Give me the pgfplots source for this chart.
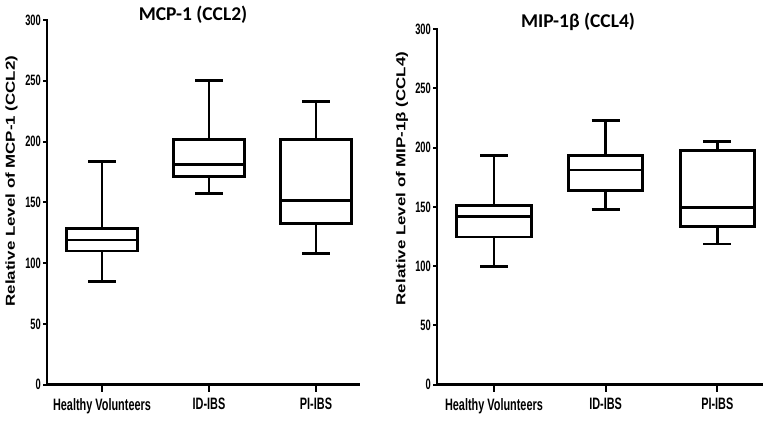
\documentclass[border=0pt]{standalone}
\usepackage{fontspec}
\setmainfont{Liberation Sans}
\newfontfamily\titlefont{Carlito Bold}
\newfontfamily\ticknarrow{Liberation Sans Bold}[FakeStretch=0.66]
\newfontfamily\ynarrow{Liberation Sans Bold}[FakeStretch=0.62]
\newfontfamily\labwide{Liberation Sans Bold}[FakeStretch=1.3]
\usepackage{pgfplots}
\pgfplotsset{compat=1.18}
\pgfplotsset{
  mybox/.style={
    axis lines=left,
    axis line style={-, draw=none},
    scale only axis,
    ymin=0, ymax=300,
    ytick={0,50,...,300},
    xtick={0,1,2},
    xticklabels={Healthy Volunteers,ID-IBS,PI-IBS},
    tick align=outside,
    major tick length=4pt,
    tick style={draw=none},
    /pgf/number format/assume math mode=true,
    yticklabel style={font=\ynarrow\fontsize{15}{15}\selectfont, text=black, inner sep=2pt},
    xticklabel style={font=\ticknarrow\fontsize{16.5}{16.5}\selectfont, text=black, yshift=-6pt},
    clip=false,
    empty line=jump,
  },
  bp/.style={black, line width=2.8pt, mark=none, line join=miter},
  fr/.style={black, line width=2.8pt, mark=none, line join=miter, line cap=rect},
  tk/.style={black, line width=2pt, mark=none},
}
\begin{document}
\begin{tikzpicture}
\useasboundingbox (0pt,0pt) rectangle (768pt,424pt);
\begin{axis}[mybox, at={(47pt,39.3pt)}, anchor=south west,
  width=312pt, height=364.7pt, xmin=-0.514, xmax=2.402]
% frame and ticks
\addplot[fr] coordinates {(-0.514,300) (-0.514,0) (2.402,0)};
\addplot[tk] table {
x y
-0.514 50
-0.552 50

-0.514 100
-0.552 100

-0.514 150
-0.552 150

-0.514 200
-0.552 200

-0.514 250
-0.552 250

-0.514 300
-0.552 300

-0.514 0
-0.552 0

0 0
0 -5.8

1 0
1 -5.8

2 0
2 -5.8
};
% Healthy Volunteers: LW 85.2, Q1 110, Med 119, Q3 128.6, UW 183.3
\addplot[bp] table {
x y
-0.33 110
0.33 110
0.33 128.6
-0.33 128.6
-0.33 110
0.33 110

-0.33 119
0.33 119

0 128.6
0 183.3

-0.13 183.3
0.13 183.3

0 110
0 85.2

-0.13 85.2
0.13 85.2
};
% ID-IBS: LW 157, Q1 171.5, Med 181.4, Q3 201.5, UW 250
\addplot[bp] table {
x y
0.67 171.5
1.33 171.5
1.33 201.5
0.67 201.5
0.67 171.5
1.33 171.5

0.67 181.4
1.33 181.4

1 201.5
1 250

0.87 250
1.13 250

1 171.5
1 157

0.87 157
1.13 157
};
% PI-IBS: LW 108, Q1 132.7, Med 151.7, Q3 202, UW 232.8
\addplot[bp] table {
x y
1.67 132.7
2.33 132.7
2.33 202
1.67 202
1.67 132.7
2.33 132.7

1.67 151.7
2.33 151.7

2 202
2 232.8

1.87 232.8
2.13 232.8

2 132.7
2 108

1.87 108
2.13 108
};
\end{axis}
\begin{axis}[mybox, at={(437pt,39.3pt)}, anchor=south west,
  width=325pt, height=355.7pt, xmin=-0.51, xmax=2.40]
% frame and ticks
\addplot[fr] coordinates {(-0.51,300) (-0.51,0) (2.40,0)};
\addplot[tk] table {
x y
-0.51 50
-0.546 50

-0.51 100
-0.546 100

-0.51 150
-0.546 150

-0.51 200
-0.546 200

-0.51 250
-0.546 250

-0.51 300
-0.546 300

-0.51 0
-0.546 0

0 0
0 -5.9

1 0
1 -5.9

2 0
2 -5.9
};
% Healthy Volunteers: LW 100, Q1 124.5, Med 142, Q3 150.9, UW 193.1
\addplot[bp] table {
x y
-0.333 124.5
0.333 124.5
0.333 150.9
-0.333 150.9
-0.333 124.5
0.333 124.5

-0.333 142
0.333 142

0 150.9
0 193.1

-0.125 193.1
0.125 193.1

0 124.5
0 100

-0.125 100
0.125 100
};
% ID-IBS: LW 147.6, Q1 163.6, Med 181, Q3 193.1, UW 222.6
\addplot[bp] table {
x y
0.667 163.6
1.333 163.6
1.333 193.1
0.667 193.1
0.667 163.6
1.333 163.6

0.667 181
1.333 181

1 193.1
1 222.6

0.875 222.6
1.125 222.6

1 163.6
1 147.6

0.875 147.6
1.125 147.6
};
% PI-IBS: LW 118.6, Q1 133.2, Med 149.6, Q3 197.3, UW 205.2
\addplot[bp] table {
x y
1.667 133.2
2.333 133.2
2.333 197.3
1.667 197.3
1.667 133.2
2.333 133.2

1.667 149.6
2.333 149.6

2 197.3
2 205.2

1.875 205.2
2.125 205.2

2 133.2
2 118.6

1.875 118.6
2.125 118.6
};
\end{axis}
\node[anchor=base, font=\titlefont\fontsize{19.5}{20}\selectfont] at (193pt,403pt) {MCP-1 (CCL2)};
\node[anchor=base, font=\titlefont\fontsize{19.5}{20}\selectfont] at (578pt,396pt) {MIP-1β (CCL4)};
\node[rotate=90, font=\labwide\fontsize{13}{13}\selectfont] at (11.5pt,243pt) {Relative Level of MCP-1 (CCL2)};
\node[rotate=90, font=\labwide\fontsize{13}{13}\selectfont] at (402pt,245.5pt) {Relative Level of MIP-1β (CCL4)};
\end{tikzpicture}
\end{document}
